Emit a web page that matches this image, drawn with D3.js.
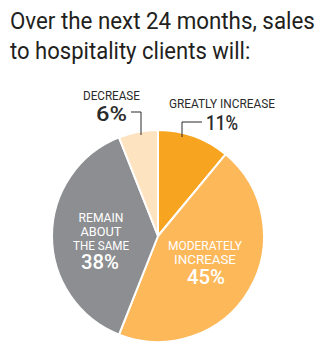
<!DOCTYPE html>
<html><head><meta charset="utf-8">
<script src="https://cdn.jsdelivr.net/npm/d3@7/dist/d3.min.js"></script>
<style>
body{margin:0;background:#fff;}
svg text{font-family:"Roboto",sans-serif;}
</style></head>
<body><svg id="c" width="325" height="357"></svg>
<script>
const titleLines = ["Over the next 24 months, sales", "to hospitality clients will:"];
const categories = ["GREATLY INCREASE", "MODERATELY INCREASE", "REMAIN ABOUT THE SAME", "DECREASE"];
const labelLines = [["GREATLY INCREASE"], ["MODERATELY", "INCREASE"], ["REMAIN", "ABOUT", "THE SAME"], ["DECREASE"]];
const values = [11, 45, 38, 6];
const colors = ["#F7A520", "#FDB85A", "#8D8E91", "#FDE3C0"];

const svg = d3.select("#c");
const cx = 158, cy = 236, R = 106;

// draw text at (x,y); optionally condensed horizontally to a target width w
function txt(x, y, s, opt) {
  const t = svg.append("text")
    .attr("font-size", opt.fs).attr("fill", opt.fill)
    .attr("font-weight", opt.fw || 400)
    .attr("text-anchor", opt.anchor || "start")
    .text(s);
  let sx = opt.sx || 1;
  if (opt.w) sx = opt.w / t.node().getComputedTextLength();
  t.attr("transform", `translate(${x},${y}) scale(${sx},1)`);
  return t;
}

// title
txt(10, 29, titleLines[0], {fs: 24, fill: "#231f20", w: 305});
txt(10, 59, titleLines[1], {fs: 24, fill: "#231f20", sx: 0.92});

const pie = d3.pie().sort(null).value(d => d)(values);
const arc = d3.arc().innerRadius(0).outerRadius(R);
const g = svg.append("g").attr("transform", `translate(${cx},${cy})`);
g.selectAll("path").data(pie).enter().append("path")
  .attr("d", arc)
  .attr("fill", (d, i) => colors[i])
  .attr("stroke", "#fff").attr("stroke-width", 2).attr("stroke-linejoin", "round");

const pct = v => v + "%";
const dark = "#2b2b2b";
const pfs = 19.5, pfw = 500;
// DECREASE
txt(83, 100, labelLines[3][0], {fs: 12, fill: dark, w: 57});
txt(96, 121, pct(values[3]), {fs: pfs, fill: dark, fw: pfw, w: 31});
svg.append("path").attr("d", "M131,112H141V135").attr("fill", "none").attr("stroke", dark).attr("stroke-width", 1);
// GREATLY INCREASE
txt(169, 108, labelLines[0][0], {fs: 12, fill: dark, w: 106});
txt(206, 130, pct(values[0]), {fs: pfs, fill: dark, fw: pfw, w: 32});
svg.append("path").attr("d", "M202,122H182V137").attr("fill", "none").attr("stroke", dark).attr("stroke-width", 1);
// REMAIN ABOUT THE SAME
const remW = [45, 41, 56];
labelLines[2].forEach((l, i) => txt(101, 222 + i * 14, l, {fs: 13, fill: "#fff", anchor: "middle", w: remW[i]}));
txt(100, 269, pct(values[2]), {fs: pfs, fill: "#fff", fw: pfw, anchor: "middle", w: 38});
// MODERATELY INCREASE
const modW = [74, 62];
labelLines[1].forEach((l, i) => txt(205, 250 + i * 13.5, l, {fs: 13, fill: "#fff", anchor: "middle", w: modW[i]}));
txt(206, 284, pct(values[1]), {fs: pfs, fill: "#fff", fw: pfw, anchor: "middle", w: 38});
</script></body></html>
